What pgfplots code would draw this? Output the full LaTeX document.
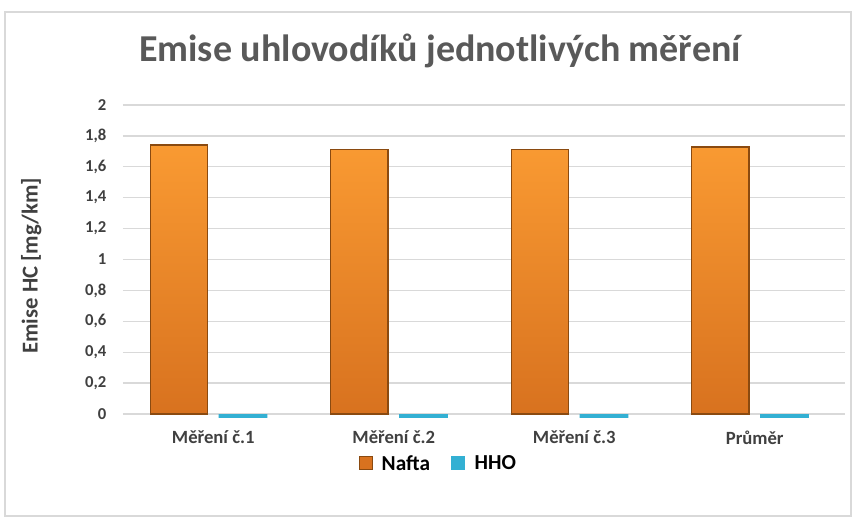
\documentclass[border=0pt]{standalone}
\usepackage{pgfplots}
\pgfplotsset{compat=1.18}
\usepackage{fontspec}
\setmainfont{Carlito}
\definecolor{gridc}{HTML}{D9D9D9}
\definecolor{titlec}{HTML}{595959}
\definecolor{tickc}{HTML}{404040}
\definecolor{orA}{HTML}{F99A32}
\definecolor{orB}{HTML}{D8721F}
\definecolor{orE}{HTML}{8A4A10}
\definecolor{cyanc}{HTML}{33B0D3}
\begin{document}
\begin{tikzpicture}[x=0.75pt,y=0.75pt]
\begin{axis}[
  at={(0,0)}, anchor=south west,
  scale only axis,
  width=541.5pt, height=231.75pt,
  xmin=-0.5, xmax=3.5, ymin=0, ymax=2,
  ytick={0,0.2,...,2.0},
  xtick={0,1,2,3},
  xticklabels={Měření č.1,Měření č.2,Měření č.3,Průměr},
  ymajorgrids, grid style={gridc, line width=1pt},
  axis line style={draw=none},
  major tick length=0pt,
  /pgf/number format/assume math mode=true,
  /pgf/number format/use comma,
  /pgf/number format/fixed,
  yticklabel style={font=\fontsize{12.5}{14}\selectfont\bfseries, text=tickc, xshift=-9pt},
  xticklabel style={font=\fontsize{14}{16}\selectfont\bfseries, text=tickc, yshift=-9pt},
  ylabel={Emise HC [mg/km]},
  every axis y label/.style={at={(axis description cs:-0.127,0.48)}, rotate=90, anchor=center, font=\fontsize{17}{19}\selectfont\bfseries, text=tickc},
  ybar, bar width=0.316,
  clip=false,
]
\draw[gridc, line width=1pt] (axis cs:-0.5,0) -- (axis cs:3.5,0);
\addplot[bar shift=-0.19, draw=orE, line width=0.8pt, top color=orA, bottom color=orB] coordinates {(0,1.741) (1,1.709) (2,1.71) (3,1.728)};
\addplot[bar shift=0.165, bar width=0.27, draw=cyanc, line width=3.6pt, line cap=round, fill=cyanc, yshift=-1.5pt] coordinates {(0,0) (1,0) (2,0) (3,0)};
\end{axis}
\draw[gridc, line width=0.8pt] (5-123,414-516) rectangle (851-123,414-12);
\path[use as bounding box] (-123,414-522) rectangle (856-123,414);
\node[font=\fontsize{28.5}{32}\selectfont\bfseries, text=titlec] at (440-123,414-51) {Emise uhlovodíků jednotlivých měření};
\node[inner sep=0pt, minimum size=10pt, fill=orB, draw=orE, line width=0.4pt] at (366-123,414-463) {};
\node[anchor=west, font=\fontsize{16}{18}\selectfont\bfseries] at (377-123,414-463) {Nafta};
\node[inner sep=0pt, minimum size=10pt, fill=cyanc] at (458-123,414-463) {};
\node[anchor=west, font=\fontsize{16}{18}\selectfont\bfseries] at (470-123,414-463) {HHO};
\end{tikzpicture}
\end{document}
